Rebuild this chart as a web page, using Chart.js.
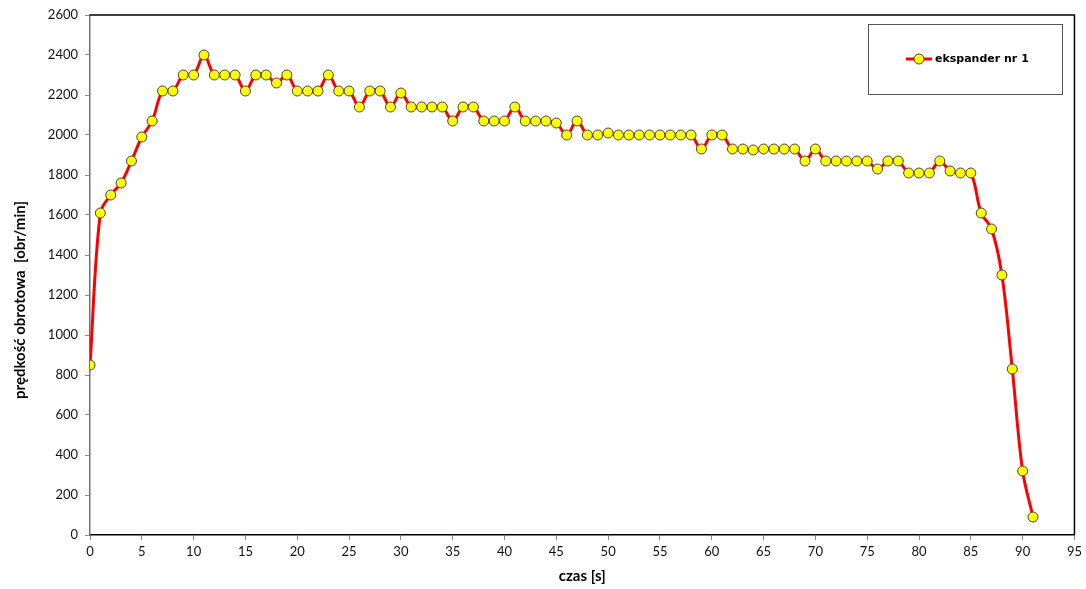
<!DOCTYPE html>
<html>
<head>
<meta charset="utf-8">
<script src="https://cdn.jsdelivr.net/npm/chart.js@4.4.1/dist/chart.umd.min.js"></script>
<style>
  html, body { margin: 0; padding: 0; background: #fff; }
  #wrap { width: 1086px; height: 589px; }
</style>
</head>
<body>
<div id="wrap"><canvas id="speedChart" width="1086" height="589"></canvas></div>
<script>
const seriesName = 'ekspander nr 1';
const yTitle = 'prędkość obrotowa  [obr/min]';
const xTitle = 'czas [s]';
const times = [];
for (let t = 0; t <= 91; t++) times.push(t);
const speeds = [
  850, 1610, 1700, 1760, 1870, 1990, 2070, 2220, 2220, 2300,
  2300, 2400, 2300, 2300, 2300, 2220, 2300, 2300, 2260, 2300,
  2220, 2220, 2220, 2300, 2220, 2220, 2140, 2220, 2220, 2140,
  2210, 2140, 2140, 2140, 2140, 2070, 2140, 2140, 2070, 2070,
  2070, 2140, 2070, 2070, 2070, 2060, 2000, 2070, 2000, 2000,
  2010, 2000, 2000, 2000, 2000, 2000, 2000, 2000, 2000, 1930,
  2000, 2000, 1930, 1930, 1925, 1930, 1930, 1930, 1930, 1870,
  1930, 1870, 1870, 1870, 1870, 1870, 1830, 1870, 1870, 1810,
  1810, 1810, 1870, 1820, 1810, 1810, 1610, 1530, 1300, 830,
  320, 90
];
const xTicks = { min: 0, max: 95, step: 5 };
const yTicks = { min: 0, max: 2600, step: 200 };

const points = times.map((t, i) => ({ x: t, y: speeds[i] }));

// plot frame, y title and legend box drawn by hand
const framePlugin = {
  id: 'frame',
  afterDraw(chart) {
    const ctx = chart.ctx;
    const a = chart.chartArea;
    ctx.save();
    ctx.strokeStyle = '#000';
    ctx.lineWidth = 1.5;
    ctx.beginPath();
    ctx.moveTo(a.left, a.top);
    ctx.lineTo(a.right, a.top);
    ctx.lineTo(a.right, a.bottom);
    ctx.stroke();

    // y title (sits a bit lower than the axis centre)
    ctx.save();
    ctx.translate(20, 300);
    ctx.rotate(-Math.PI / 2);
    ctx.fillStyle = '#000';
    ctx.font = 'bold 15px Lato';
    ctx.textAlign = 'center';
    ctx.textBaseline = 'middle';
    ctx.fillText(yTitle, 0, 0);
    ctx.restore();

    // legend
    const bx = 868, by = 24, bw = 194, bh = 70;
    ctx.fillStyle = '#fff';
    ctx.fillRect(bx, by, bw, bh);
    ctx.strokeStyle = '#555';
    ctx.lineWidth = 1;
    ctx.strokeRect(bx + 0.5, by + 0.5, bw, bh);
    const cy = by + 35;
    ctx.strokeStyle = '#ff0000';
    ctx.lineWidth = 3;
    ctx.beginPath();
    ctx.moveTo(906, cy);
    ctx.lineTo(932, cy);
    ctx.stroke();
    ctx.beginPath();
    ctx.arc(919, cy, 5, 0, Math.PI * 2);
    ctx.fillStyle = '#ffff00';
    ctx.fill();
    ctx.strokeStyle = '#444';
    ctx.lineWidth = 1;
    ctx.stroke();
    ctx.fillStyle = '#000';
    ctx.font = 'bold 11px "DejaVu Sans"';
    ctx.textBaseline = 'middle';
    ctx.fillText(seriesName, 935, cy);
    ctx.restore();
  }
};

new Chart(document.getElementById('speedChart'), {
  type: 'line',
  data: {
    datasets: [{
      label: seriesName,
      data: points,
      borderColor: '#ff0000',
      borderWidth: 3,
      tension: 0.35,
      pointRadius: 5,
      pointBackgroundColor: '#ffff00',
      pointBorderColor: '#444',
      pointBorderWidth: 1
    }]
  },
  options: {
    responsive: false,
    animation: false,
    layout: { padding: { left: 0, top: 15, right: 9, bottom: 0 } },
    plugins: {
      legend: { display: false },
      tooltip: { enabled: false }
    },
    scales: {
      x: {
        type: 'linear',
        min: xTicks.min,
        max: xTicks.max,
        afterFit: (s) => { s.height = 54; },
        border: { color: '#000', width: 1.5 },
        grid: { drawOnChartArea: false, tickLength: 5, color: '#888' },
        ticks: {
          stepSize: xTicks.step,
          color: '#111',
          padding: 4,
          maxRotation: 0,
          callback: (v) => String(v),
          font: { family: 'Lato', size: 13 }
        },
        title: {
          display: true,
          text: xTitle,
          color: '#000',
          padding: { top: 6 },
          font: { family: 'Lato', size: 15, weight: 'bold' }
        }
      },
      y: {
        min: yTicks.min,
        max: yTicks.max,
        afterFit: (s) => { s.width = 90; },
        border: { color: '#707070', width: 1.5 },
        grid: { drawOnChartArea: false, tickLength: 5, color: '#888' },
        ticks: {
          stepSize: yTicks.step,
          color: '#111',
          padding: 7,
          callback: (v) => String(v),
          font: { family: 'Lato', size: 13 }
        }
      }
    }
  },
  plugins: [framePlugin]
});
</script>
</body>
</html>
